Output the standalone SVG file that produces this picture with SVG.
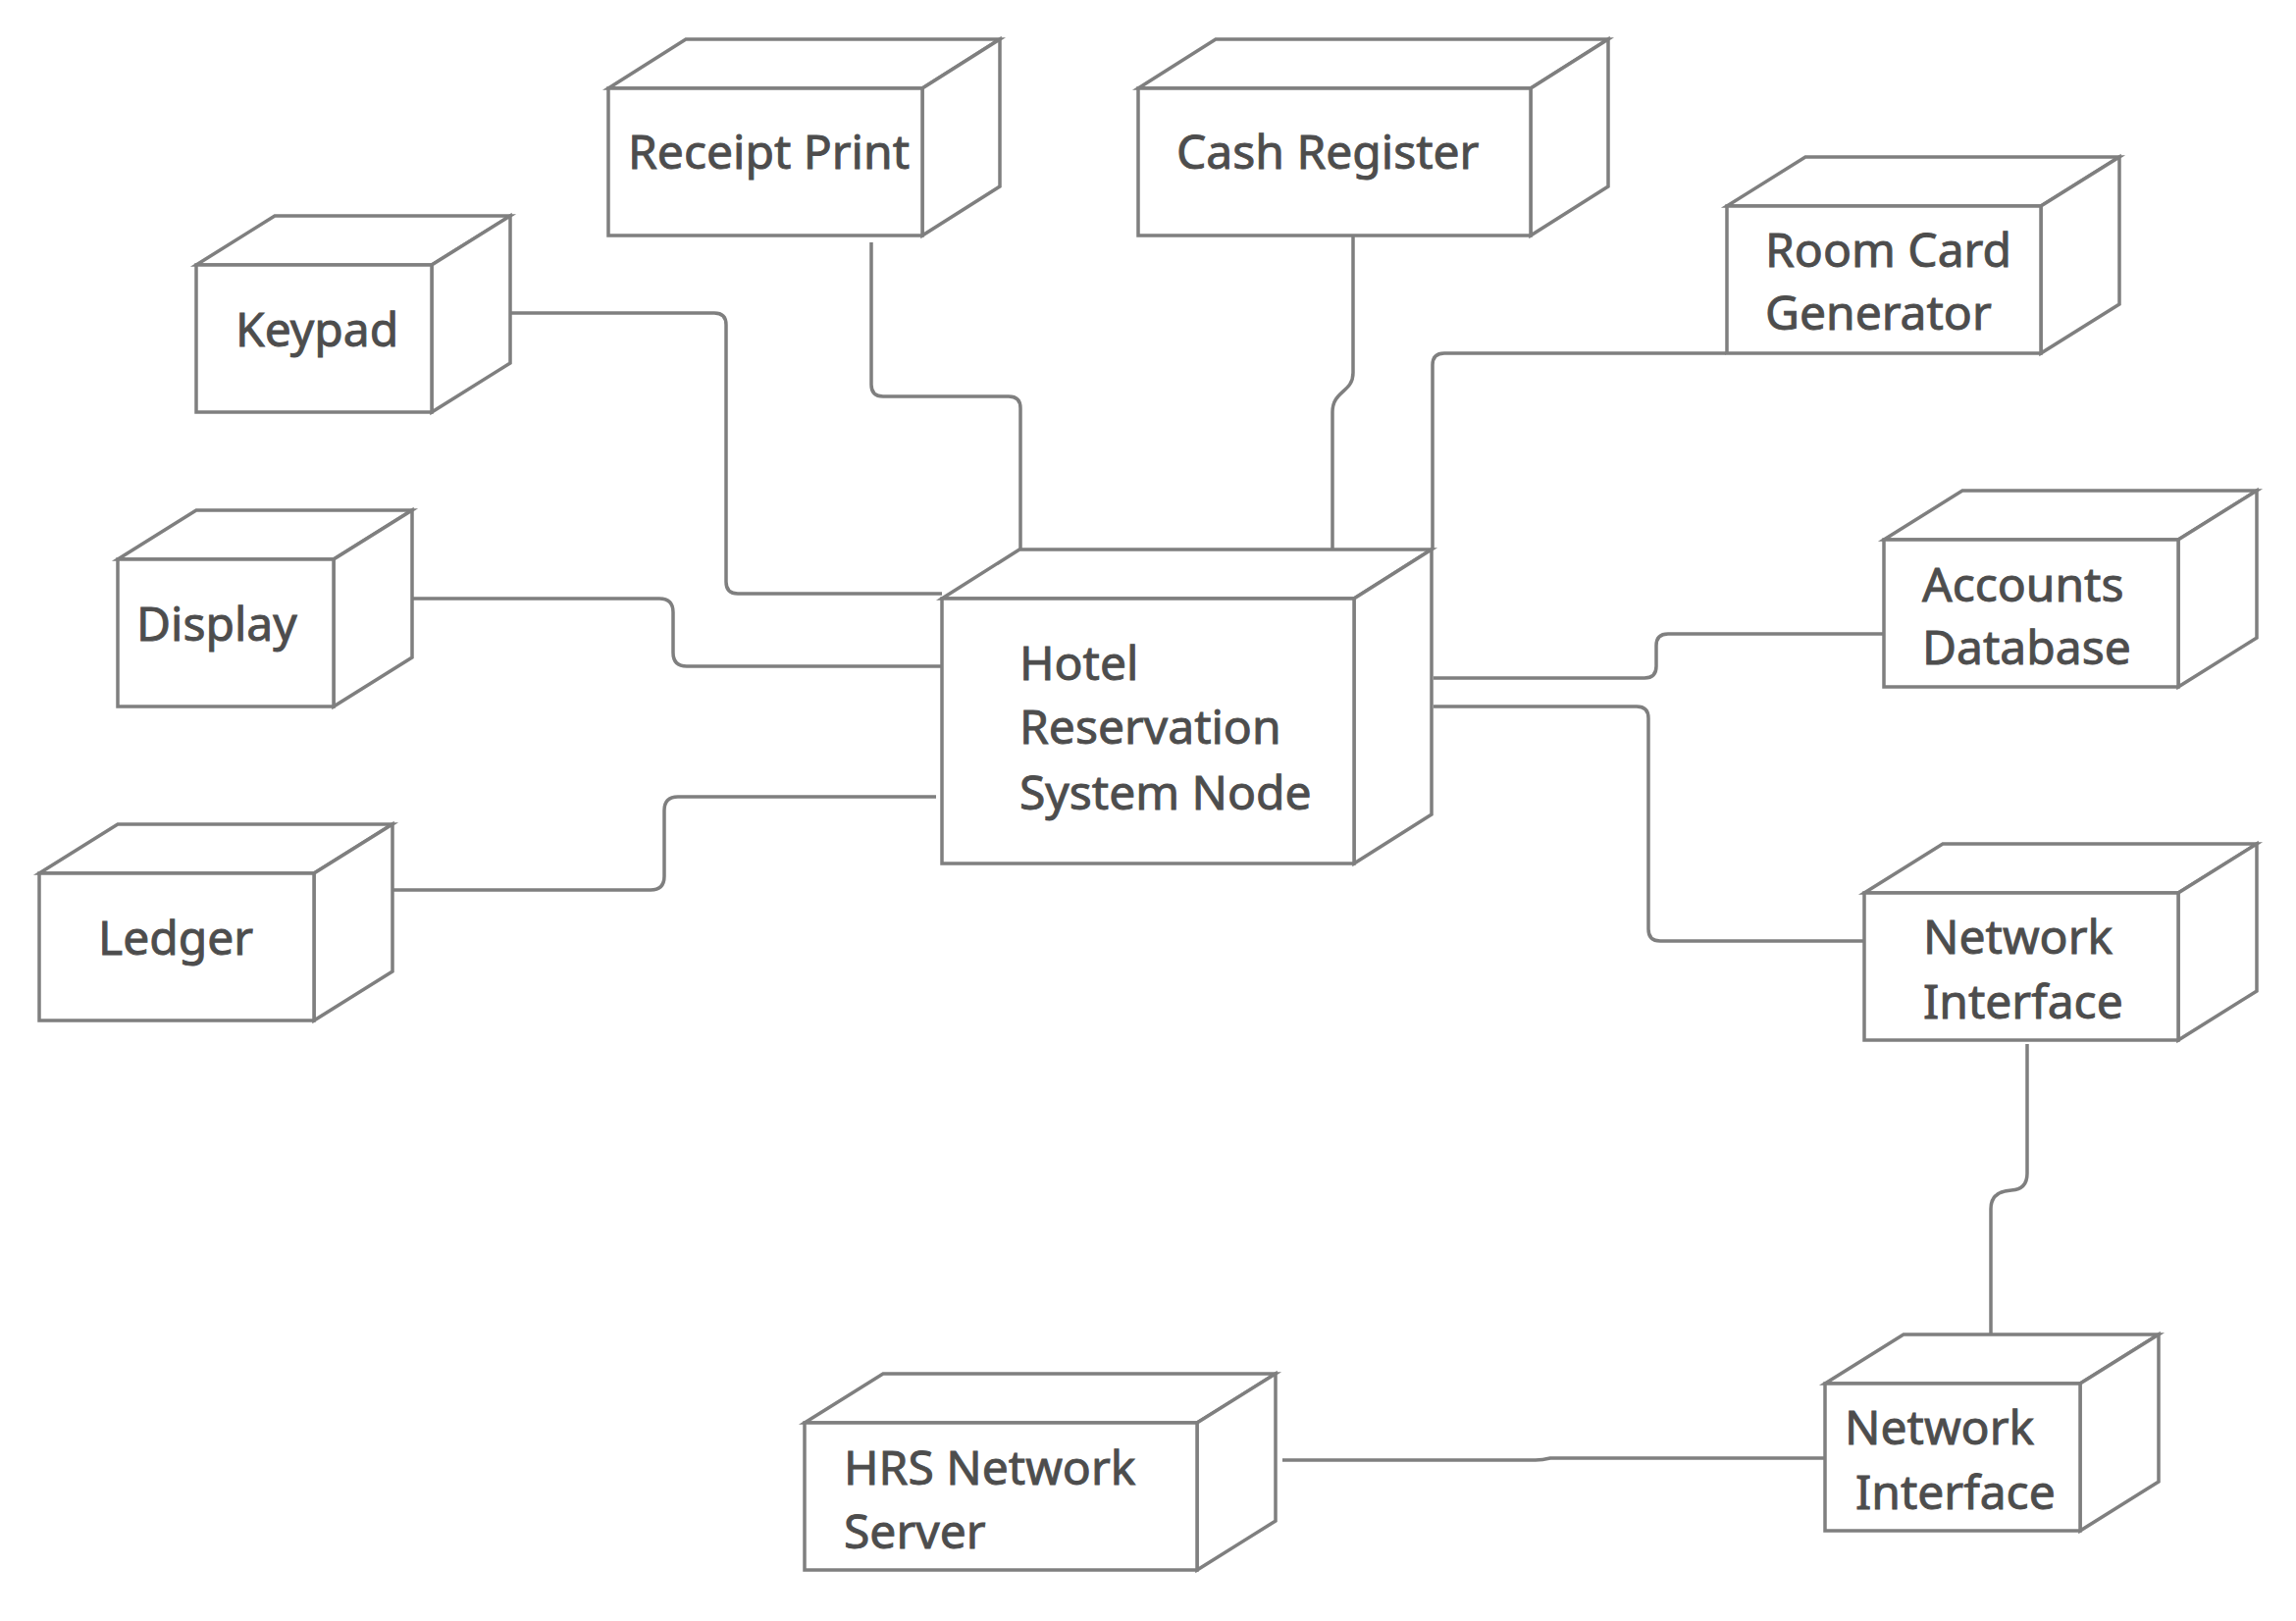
<svg xmlns="http://www.w3.org/2000/svg" width="2340" height="1652" viewBox="0 0 2340 1652">
<style>
.n{fill:#ffffff;stroke:#7f7f7f;stroke-width:3.5;stroke-linejoin:miter}
.c{fill:none;stroke:#7f7f7f;stroke-width:3.5}
.t{font-family:"Noto Sans","Open Sans",sans-serif;font-size:48px;fill:#4d4d4d;stroke:#4d4d4d;stroke-width:0.9}
</style>
<rect width="2340" height="1652" fill="#ffffff"/>
<g id="connectors">
<path class="c" d="M520,319 L728,319 Q740,319 740,331 L740,593 Q740,605 752,605 L960,605"/>
<path class="c" d="M888,247 L888,392 Q888,404 900,404 L1028,404 Q1040,404 1040,416 L1040,560"/>
<path class="c" d="M1379,236 L1379,380 C1379,400 1358,398 1358,420 L1358,560"/>
<path class="c" d="M1460,560 L1460,372 Q1460,360 1472,360 L1759,360"/>
<path class="c" d="M420,610 L672,610 Q686,610 686,624 L686,665 Q686,679 700,679 L960,679"/>
<path class="c" d="M954,812 L691,812 Q677,812 677,826 L677,893 Q677,907 663,907 L400,907"/>
<path class="c" d="M1461,691 L1676,691 Q1688,691 1688,679 L1688,658 Q1688,646 1700,646 L1919,646"/>
<path class="c" d="M1461,720 L1668,720 Q1680,720 1680,732 L1680,947 Q1680,959 1692,959 L1900,959"/>
<path class="c" d="M2066,1064 L2066,1196 Q2066,1212 2050,1213 Q2029,1214 2029,1232 L2029,1360"/>
<path class="c" d="M1307,1488 L1565,1488 Q1572,1488 1580,1486 L1860,1486"/>
</g>
<g id="receipt-print">
<path class="n" d="M620,90 L699,40 L1019,40 L940,90 Z"/>
<path class="n" d="M940,90 L1019,40 L1019,190 L940,240 Z"/>
<rect class="n" x="620" y="90" width="320" height="150"/>
<text class="t" x="640" y="172">Receipt Print</text>
</g>
<g id="cash-register">
<path class="n" d="M1160,90 L1239,40 L1639,40 L1560,90 Z"/>
<path class="n" d="M1560,90 L1639,40 L1639,190 L1560,240 Z"/>
<rect class="n" x="1160" y="90" width="400" height="150"/>
<text class="t" x="1199" y="172">Cash Register</text>
</g>
<g id="keypad">
<path class="n" d="M200,270 L280,220 L520,220 L440,270 Z"/>
<path class="n" d="M440,270 L520,220 L520,370 L440,420 Z"/>
<rect class="n" x="200" y="270" width="240" height="150"/>
<text class="t" x="240" y="353">Keypad</text>
</g>
<g id="room-card-generator">
<path class="n" d="M1760,210 L1840,160 L2160,160 L2080,210 Z"/>
<path class="n" d="M2080,210 L2160,160 L2160,310 L2080,360 Z"/>
<rect class="n" x="1760" y="210" width="320" height="150"/>
<text class="t" x="1799" y="272">Room Card</text>
<text class="t" x="1799" y="336">Generator</text>
</g>
<g id="display">
<path class="n" d="M120,570 L200,520 L420,520 L340,570 Z"/>
<path class="n" d="M340,570 L420,520 L420,670 L340,720 Z"/>
<rect class="n" x="120" y="570" width="220" height="150"/>
<text class="t" x="139" y="653">Display</text>
</g>
<g id="hotel-reservation-system-node">
<path class="n" d="M960,610 L1039,560 L1459,560 L1380,610 Z"/>
<path class="n" d="M1380,610 L1459,560 L1459,830 L1380,880 Z"/>
<rect class="n" x="960" y="610" width="420" height="270"/>
<text class="t" x="1039" y="693">Hotel</text>
<text class="t" x="1039" y="758">Reservation</text>
<text class="t" x="1039" y="825">System Node</text>
</g>
<g id="accounts-database">
<path class="n" d="M1920,550 L2000,500 L2300,500 L2220,550 Z"/>
<path class="n" d="M2220,550 L2300,500 L2300,650 L2220,700 Z"/>
<rect class="n" x="1920" y="550" width="300" height="150"/>
<text class="t" x="1959" y="613">Accounts</text>
<text class="t" x="1959" y="677">Database</text>
</g>
<g id="ledger">
<path class="n" d="M40,890 L120,840 L400,840 L320,890 Z"/>
<path class="n" d="M320,890 L400,840 L400,990 L320,1040 Z"/>
<rect class="n" x="40" y="890" width="280" height="150"/>
<text class="t" x="100" y="973">Ledger</text>
</g>
<g id="network-interface-1">
<path class="n" d="M1900,910 L1980,860 L2300,860 L2220,910 Z"/>
<path class="n" d="M2220,910 L2300,860 L2300,1010 L2220,1060 Z"/>
<rect class="n" x="1900" y="910" width="320" height="150"/>
<text class="t" x="1960" y="972">Network</text>
<text class="t" x="1960" y="1038">Interface</text>
</g>
<g id="network-interface-2">
<path class="n" d="M1860,1410 L1940,1360 L2200,1360 L2120,1410 Z"/>
<path class="n" d="M2120,1410 L2200,1360 L2200,1510 L2120,1560 Z"/>
<rect class="n" x="1860" y="1410" width="260" height="150"/>
<text class="t" x="1880" y="1472">Network</text>
<text class="t" x="1891" y="1538">Interface</text>
</g>
<g id="hrs-network-server">
<path class="n" d="M820,1450 L900,1400 L1300,1400 L1220,1450 Z"/>
<path class="n" d="M1220,1450 L1300,1400 L1300,1550 L1220,1600 Z"/>
<rect class="n" x="820" y="1450" width="400" height="150"/>
<text class="t" x="860" y="1513">HRS Network</text>
<text class="t" x="860" y="1578">Server</text>
</g>
</svg>
